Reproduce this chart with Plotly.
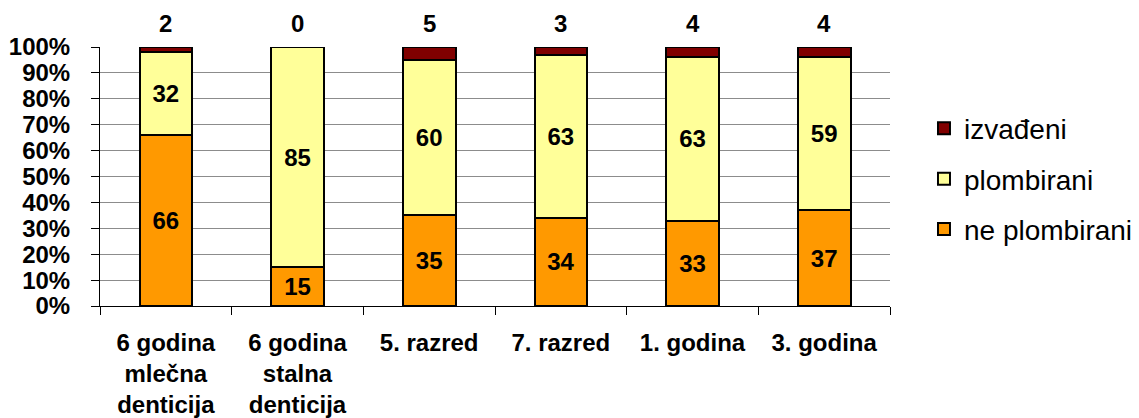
import plotly.graph_objects as go

categories = ["6 godina<br>mlečna<br>denticija", "6 godina<br>stalna<br>denticija",
              "5. razred", "7. razred", "1. godina", "3. godina"]
ne_plombirani = [66, 15, 35, 34, 33, 37]
plombirani = [32, 85, 60, 63, 63, 59]
izvadjeni = [2, 0, 5, 3, 4, 4]

FONT = "Liberation Sans, Arial, sans-serif"
line = dict(color="black", width=2)
lblfont = dict(family=FONT, size=24, color="black", weight="bold")

fig = go.Figure()
fig.add_trace(go.Bar(name="ne plombirani", x=categories, y=ne_plombirani, legendgroup="a",
                     legendrank=3,
                     marker=dict(color="#FF9900", line=line),
                     text=ne_plombirani, textposition="inside", insidetextanchor="middle",
                     textfont=lblfont))
fig.add_trace(go.Bar(name="plombirani", x=categories, y=plombirani, legendgroup="b",
                     legendrank=2,
                     marker=dict(color="#FFFF99", line=line),
                     text=plombirani, textposition="inside", insidetextanchor="middle",
                     textfont=lblfont))
fig.add_trace(go.Bar(name="izvađeni", x=categories, y=izvadjeni, legendgroup="c",
                     legendrank=1,
                     marker=dict(color="#800000", line=line)))

for c, v in zip(categories, izvadjeni):
    fig.add_annotation(x=c, y=100, text=str(v), showarrow=False, yanchor="bottom",
                       yshift=8, font=lblfont)

fig.update_layout(
    barmode="stack", bargap=0.6,
    width=1139, height=418,
    margin=dict(l=92, r=257, t=39, b=120, autoexpand=False),
    plot_bgcolor="white", paper_bgcolor="white",
    font=dict(family=FONT, color="black"),
    showlegend=True,
    legend=dict(traceorder="grouped", x=1.043, y=0.49, xanchor="left", yanchor="middle",
                font=dict(family=FONT, size=28, color="black"),
                itemsizing="constant", tracegroupgap=11, itemwidth=30),
)
fig.update_yaxes(range=[0, 100], tickvals=list(range(0, 101, 10)),
                 ticktext=[f"{v}%" for v in range(0, 101, 10)],
                 showgrid=True, gridcolor="#8c8c8c", gridwidth=1,
                 showline=True, linecolor="black", linewidth=1,
                 ticks="outside", ticklen=8, tickcolor="black",
                 tickfont=dict(family=FONT, size=24, color="black", weight="bold"),
                 ticklabelstandoff=16, zeroline=False, automargin=False)
fig.update_xaxes(showline=True, linecolor="black", linewidth=1,
                 ticks="outside", ticklen=8, tickcolor="black", tickson="boundaries",
                 tickfont=dict(family=FONT, size=24, color="black", weight="bold"),
                 ticklabelstandoff=15, automargin=False)

fig.write_html("out.html")
